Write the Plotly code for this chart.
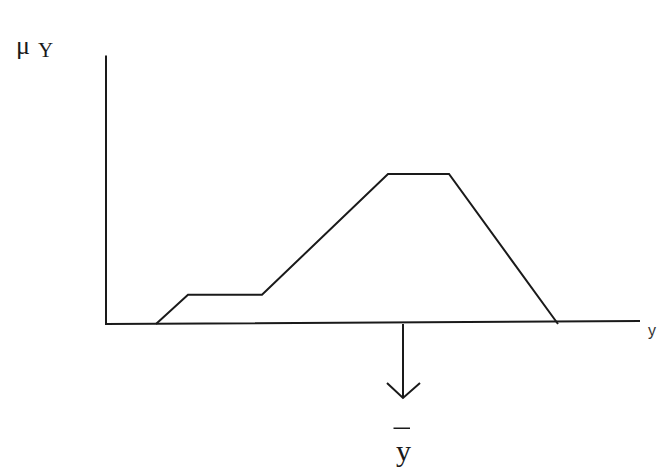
import plotly.graph_objects as go

# Aggregated output membership function (universe y, membership mu_Y)
y_pts = [1.0, 1.64, 3.12, 5.64, 6.86, 9.04]
mu_pts = [0.0, 0.195, 0.195, 1.0, 1.0, 0.0]
centroid = 5.94
axis_x_end = 10.68
axis_y_end = 1.79

ink = "#1a1a1a"
serif = "Liberation Serif, Times New Roman, serif"

fig = go.Figure()

# Axes
fig.add_trace(go.Scatter(x=[0, 0, axis_x_end], y=[axis_y_end, 0, 0.02],
                         mode="lines", line=dict(color=ink, width=2),
                         hoverinfo="skip"))
# Membership curve
fig.add_trace(go.Scatter(x=y_pts, y=mu_pts, mode="lines",
                         line=dict(color=ink, width=2), hoverinfo="skip"))
# Defuzzified value arrow
tip = -0.493
fig.add_trace(go.Scatter(x=[centroid, centroid], y=[0, tip], mode="lines",
                         line=dict(color=ink, width=2), hoverinfo="skip"))
fig.add_trace(go.Scatter(x=[centroid - 0.32, centroid, centroid + 0.34],
                         y=[tip + 0.10, tip, tip + 0.10], mode="lines",
                         line=dict(color=ink, width=2), hoverinfo="skip"))

# Bar over the centroid label
fig.add_shape(type="line", x0=centroid - 0.19, x1=centroid + 0.14,
              y0=-0.695, y1=-0.695, line=dict(color=ink, width=1.5))

fig.add_annotation(x=centroid, y=-0.84, text="y", showarrow=False,
                   font=dict(family=serif, size=30, color=ink))
# mu_Y label: Greek mu followed by a lowered Y
fig.add_annotation(x=-1.66, y=1.86, text="μ", showarrow=False,
                   font=dict(family=serif, size=26, color=ink))
fig.add_annotation(x=-1.22, y=1.83, text="Y", showarrow=False,
                   font=dict(family=serif, size=21, color=ink))
fig.add_annotation(x=10.92, y=-0.04, text="y", showarrow=False,
                   font=dict(family="Liberation Sans, Arial, sans-serif",
                             size=16, color="#333333"))

fig.update_layout(
    width=658, height=471, margin=dict(l=0, r=0, t=0, b=0),
    paper_bgcolor="white", plot_bgcolor="white", showlegend=False,
    xaxis=dict(range=[-2.12, 11.04], visible=False, fixedrange=True),
    yaxis=dict(range=[-0.98, 2.16], visible=False, fixedrange=True),
)

fig.write_html("out.html")
